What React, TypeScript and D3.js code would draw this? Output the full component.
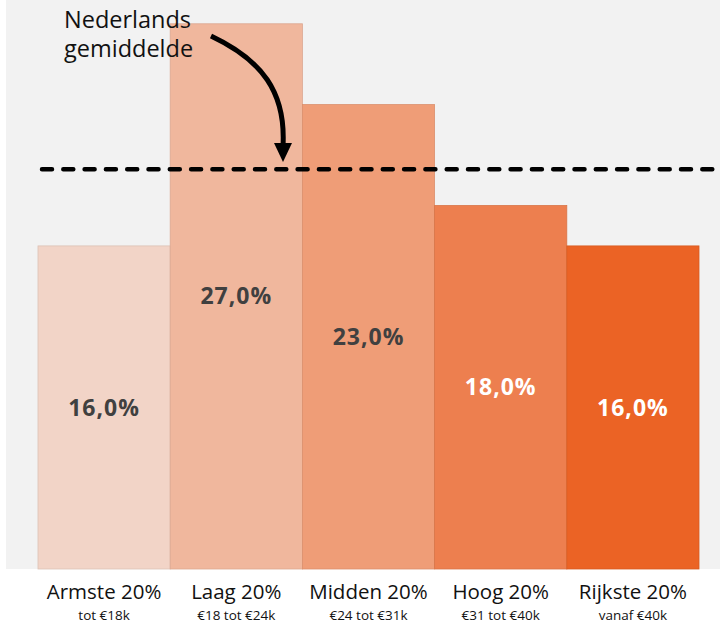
import React from "react";
import * as d3 from "d3";

const categories = ["Armste 20%", "Laag 20%", "Midden 20%", "Hoog 20%", "Rijkste 20%"];
const subLabels = ["tot €18k", "€18 tot €24k", "€24 tot €31k", "€31 tot €40k", "vanaf €40k"];
const values = [16.0, 27.0, 23.0, 18.0, 16.0];
const colors = ["#F2D4C7", "#F0B79D", "#EF9D77", "#ED7F4F", "#EB6325"];
const labelColors = ["#404040", "#404040", "#404040", "#FFFFFF", "#FFFFFF"];
const averageValue = 19.8;
const annotationLines = ["Nederlands", "gemiddelde"];

const W = 720;
const H = 623;
const FONT = "'Open Sans', 'Noto Sans', sans-serif";

export default function App() {
  const x = d3.scaleBand<string>().domain(categories).range([38, 699]).padding(0);
  const y = d3.scaleLinear().domain([0, 28]).range([569, 3.6]);
  const fmt = (v: number) => v.toFixed(1).replace(".", ",") + "%";

  const arrowPath = d3.path();
  arrowPath.moveTo(211, 36);
  arrowPath.bezierCurveTo(262, 60, 286, 92, 283, 146);

  return (
    <svg width={W} height={H} style={{ position: "absolute", left: 0, top: 0, display: "block" }}>
      <rect x={0} y={0} width={W} height={H} fill="#FFFFFF" />
      <rect x={6} y={0} width={W - 6} height={y(0)} fill="#F2F2F2" />
      {categories.map((c, i) => (
        <rect
          key={c}
          x={x(c)}
          y={y(values[i])}
          width={x.bandwidth()}
          height={y(0) - y(values[i])}
          fill={colors[i]}
          stroke={d3.color(colors[i])!.darker(0.25).formatHex()}
          strokeWidth={0.8}
        />
      ))}
      <line
        x1={42}
        x2={W}
        y1={y(averageValue)}
        y2={y(averageValue)}
        stroke="#000"
        strokeWidth={4.5}
        strokeDasharray="10 11.3"
        strokeLinecap="round"
      />
      {categories.map((c, i) => (
        <text
          key={"v" + c}
          x={x(c)! + x.bandwidth() / 2}
          y={(y(values[i]) + y(0)) / 2}
          dy="0.35em"
          textAnchor="middle"
          fontFamily={FONT}
          fontWeight={700}
          fontSize={23}
          letterSpacing={1}
          fill={labelColors[i]}
        >
          {fmt(values[i])}
        </text>
      ))}
      {categories.map((c, i) => (
        <g key={"l" + c}>
          <text
            x={x(c)! + x.bandwidth() / 2}
            y={599}
            textAnchor="middle"
            fontFamily={FONT}
            fontSize={20.5}
            fill="#111"
          >
            {c}
          </text>
          <text
            x={x(c)! + x.bandwidth() / 2}
            y={620}
            textAnchor="middle"
            fontFamily={FONT}
            fontSize={13.5}
            fill="#111"
          >
            {subLabels[i]}
          </text>
        </g>
      ))}
      {annotationLines.map((t, i) => (
        <text key={t} x={64} y={28 + i * 29} fontFamily={FONT} fontSize={23.5} fill="#111">
          {t}
        </text>
      ))}
      <path d={arrowPath.toString()} fill="none" stroke="#000" strokeWidth={5} />
      <path d="M274,143 L292,143 L283,162 Z" fill="#000" />
    </svg>
  );
}
